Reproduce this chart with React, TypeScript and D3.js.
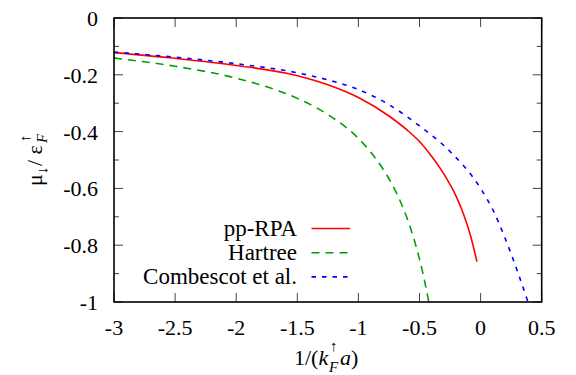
import React from 'react';
import * as d3 from 'd3';

// values
const ppRpaX = [-3, -2.5, -2, -1.5, -1.25, -1, -0.75, -0.6, -0.5, -0.4, -0.3, -0.2, -0.14, -0.08, -0.03];
const ppRpaY = [-0.122, -0.142, -0.167, -0.203, -0.235, -0.28, -0.345, -0.395, -0.435, -0.488, -0.55, -0.628, -0.69, -0.77, -0.858];

const hartreeX = [-3, -2.5, -2, -1.5, -1.25, -1, -0.9, -0.8, -0.7, -0.6, -0.55, -0.5, -0.45, -0.424];
const hartreeY = [-0.141, -0.17, -0.212, -0.283, -0.34, -0.424, -0.472, -0.531, -0.606, -0.707, -0.772, -0.849, -0.943, -1.0];

const combX = [-3, -2.5, -2, -1.5, -1.25, -1, -0.75, -0.5, -0.25, 0, 0.1, 0.2, 0.3, 0.39];
const combY = [-0.12, -0.138, -0.161, -0.193, -0.218, -0.252, -0.305, -0.38, -0.47, -0.6, -0.675, -0.775, -0.89, -1.003];

const xTicks = [-3, -2.5, -2, -1.5, -1, -0.5, 0, 0.5];
const yTicks = [0, -0.2, -0.4, -0.6, -0.8, -1];
const yMinor = [-0.1, -0.3, -0.5, -0.7, -0.9];

const seriesNames = ['pp-RPA', 'Hartree', 'Combescot et al.'];
const seriesColors = ['#ff0000', '#00a000', '#0000ff'];
const seriesDash = ['none', '8,6', '4.5,6'];

const W = 576;
const H = 375;
const left = 114, right = 541.7, top = 18, bottom = 302;
const font = "'Liberation Serif', 'DejaVu Serif', serif";

export default function App() {
  const x = d3.scaleLinear().domain([-3, 0.5]).range([left, right]);
  const y = d3.scaleLinear().domain([-1, 0]).range([bottom, top]);

  const line = d3.line<[number, number]>()
    .x(d => x(d[0]))
    .y(d => y(d[1]))
    .curve(d3.curveMonotoneX);

  const series = [
    d3.zip(ppRpaX, ppRpaY) as [number, number][],
    d3.zip(hartreeX, hartreeY) as [number, number][],
    d3.zip(combX, combY) as [number, number][],
  ];

  const fmt = (v: number) => (v === 0 ? '0' : String(v));

  return (
    <svg width={W} height={H}
      style={{ position: 'absolute', left: 0, top: 0, background: '#fff', fontFamily: font }}>
      <defs>
        <clipPath id="plot">
          <rect x={left} y={top} width={right - left} height={bottom - top} />
        </clipPath>
      </defs>

      {/* ticks */}
      <g stroke="#444" strokeWidth={1}>
        {xTicks.map(t => (
          <g key={'x' + t}>
            <line x1={x(t)} x2={x(t)} y1={bottom} y2={bottom - 9} />
            <line x1={x(t)} x2={x(t)} y1={top} y2={top + 9} />
          </g>
        ))}
        {yTicks.map(t => (
          <g key={'y' + t}>
            <line x1={left} x2={left + 9} y1={y(t)} y2={y(t)} />
            <line x1={right} x2={right - 9} y1={y(t)} y2={y(t)} />
          </g>
        ))}
        {yMinor.map(t => (
          <g key={'m' + t}>
            <line x1={left} x2={left + 5} y1={y(t)} y2={y(t)} />
            <line x1={right} x2={right - 5} y1={y(t)} y2={y(t)} />
          </g>
        ))}
      </g>

      {/* tick labels */}
      <g fontSize={22} fill="#000">
        {xTicks.map(t => (
          <text key={'xl' + t} x={x(t)} y={335} textAnchor="middle">{fmt(t)}</text>
        ))}
        {yTicks.map(t => (
          <text key={'yl' + t} x={98} y={y(t) + 8} textAnchor="end">{fmt(t)}</text>
        ))}
      </g>

      {/* curves */}
      <g clipPath="url(#plot)" fill="none">
        {series.map((s, i) => (
          <path key={i} d={line(s) || ''} stroke={seriesColors[i]} strokeWidth={1.6}
            strokeDasharray={seriesDash[i]} />
        ))}
      </g>

      {/* frame */}
      <rect x={left} y={top} width={right - left} height={bottom - top} fill="none" stroke="#000" strokeWidth={1.6} />

      {/* legend */}
      <g fontSize={23}>
        {seriesNames.map((n, i) => {
          const cy = 228.5 + i * 24.2;
          return (
            <g key={n}>
              <text x={297} y={cy + 7.5} textAnchor="end">{n}</text>
              <line x1={311.5} x2={350} y1={cy} y2={cy} stroke={seriesColors[i]} strokeWidth={1.6}
                strokeDasharray={seriesDash[i]} />
            </g>
          );
        })}
      </g>

      {/* axis titles */}
      <g fontSize={22}>
        <text x={294} y={365}>1/(<tspan fontStyle="italic">k</tspan></text>
        <text x={330} y={351} fontSize={15}>↑</text>
        <text x={329} y={372} fontSize={15} fontStyle="italic">F</text>
        <text x={340} y={365}><tspan fontStyle="italic">a</tspan>)</text>
      </g>
      <g transform="translate(42,160) rotate(-90)" fontSize={22}>
        <text x={-26} y={0}>μ</text>
        <text x={-14} y={5} fontSize={15}>↓</text>
        <text x={-6} y={0}>/ ε</text>
        <text x={17} y={5} fontSize={15} fontStyle="italic">F</text>
        <text x={18} y={-12} fontSize={15}>↑</text>
      </g>
    </svg>
  );
}
